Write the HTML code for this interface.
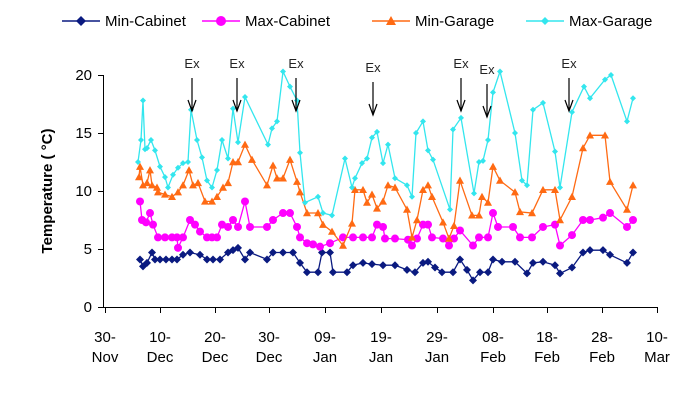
<!DOCTYPE html>
<html><head><meta charset="utf-8"><style>
body{margin:0;background:#fff;}
svg{display:block;font-family:"Liberation Sans",Arial,sans-serif;}
</style></head><body>
<svg id="s" width="700" height="400" viewBox="0 0 700 400">
<rect width="700" height="400" fill="#fff"/>
<g stroke="#000" stroke-width="1" fill="none">
<line x1="103.5" y1="75" x2="103.5" y2="307"/>
<line x1="103" y1="307.5" x2="657" y2="307.5"/>
<line x1="98" y1="75.5" x2="103" y2="75.5"/>
<line x1="98" y1="133.5" x2="103" y2="133.5"/>
<line x1="98" y1="191.5" x2="103" y2="191.5"/>
<line x1="98" y1="249.5" x2="103" y2="249.5"/>
<line x1="98" y1="307.5" x2="103" y2="307.5"/>
</g>
<g font-size="15" text-anchor="end" fill="#000">
<text x="92" y="80">20</text><text x="92" y="138">15</text><text x="92" y="196">10</text><text x="92" y="254">5</text><text x="92" y="312">0</text>
</g>
<text transform="translate(52,191) rotate(-90)" font-size="15" font-weight="bold" text-anchor="middle">Temperature ( °C)</text>
<g id="xt"></g>
<g id="series"></g>
<g id="ex"></g>
<g id="leg" font-size="15"></g>
</svg>
<script>
var NS="http://www.w3.org/2000/svg";
function el(p,t,a,txt){var e=document.createElementNS(NS,t);for(var k in a)e.setAttribute(k,a[k]);if(txt!==undefined)e.textContent=txt;p.appendChild(e);return e;}
var xt=document.getElementById('xt');
var ticks=[105,160,215,269,325,381,437,493,547,602,657];
var l1=["30-","10-","20-","30-","09-","19-","29-","08-","18-","28-","10-"];
var l2=["Nov","Dec","Dec","Dec","Jan","Jan","Jan","Feb","Feb","Feb","Mar"];
ticks.forEach(function(x,i){
 el(xt,'line',{x1:x+.5,y1:307,x2:x+.5,y2:313,stroke:'#000'});
 el(xt,'text',{x:x,y:342,'font-size':15,'text-anchor':'middle'},l1[i]);
 el(xt,'text',{x:x,y:362,'font-size':15,'text-anchor':'middle'},l2[i]);
});
function Y(t){return 307-t*11.6;}
var cyan=[[138,12.5],[141,14.4],[143,17.8],[145,13.6],[147,13.7],[151,14.4],[155,13.5],[160,12.1],[165,11.2],[168,10.3],[173,11.4],[178,12],[183,12.4],[188,12.5],[191,17],[197,14.4],[202,12.9],[207,10.9],[212,10.3],[217,11.8],[222,14.4],[228,12.8],[233,17.1],[238,14.2],[245,18.1],[268,14],[272,15.4],[277,16],[283,20.3],[290,19],[297,17.8],[300,13.3],[305,9],[318,9.5],[323,8.1],[332,7.9],[345,12.8],[352,10.3],[355,11.1],[362,12.4],[367,12.8],[372,14.6],[377,15.1],[383,12.4],[388,14],[395,11.1],[407,10.5],[412,9.5],[416,15],[423,16],[428,13.5],[433,12.7],[450,8.4],[453,15.3],[461,16.3],[474,9.8],[479,12.5],[483,12.6],[488,14.4],[493,18.5],[500,20.3],[515,15],[522,10.9],[527,10.5],[533,17],[543,17.6],[555,13.4],[560,10.3],[572,16.8],[584,19],[590,18],[605,19.6],[611,20],[627,16],[633,18]];
var orange=[[139,11.2],[140,12.1],[143,10.5],[147,10.7],[150,11.8],[152,10.5],[157,10.3],[158,9.9],[165,9.7],[172,9.5],[178,9.9],[183,10.5],[189,11.8],[193,10.5],[198,10.7],[205,9.1],[212,9.1],[217,9.5],[223,10.3],[228,10.7],[233,12.5],[238,12.5],[245,14],[252,12.7],[267,10.5],[273,12.2],[277,11.1],[283,11.1],[290,12.7],[297,10.8],[300,9.9],[307,8.1],[318,8.1],[323,7.1],[332,6.5],[343,5.3],[352,7.2],[355,10.1],[363,10.1],[367,9],[372,9.7],[377,8.5],[383,9.1],[388,10.5],[395,10.3],[407,8.4],[412,6],[417,7.5],[423,10.1],[428,10.5],[432,9.5],[443,7.3],[449,5.9],[454,7],[460,10.9],[472,7.9],[479,7.9],[482,9.5],[488,9],[493,12.1],[500,10.9],[515,9.9],[520,8.2],[532,8.1],[543,10.1],[555,10.1],[560,7.5],[572,9.5],[583,13.7],[590,14.8],[605,14.8],[610,10.8],[627,8.4],[633,10.5]];
var mag=[[140,9.1],[142,7.5],[146,7.3],[150,8.1],[153,7.1],[158,6],[165,6],[172,6],[177,6],[178,5.1],[183,6],[190,7.5],[195,7.1],[200,6.5],[207,6],[212,6],[217,6],[222,7.1],[228,6.9],[233,7.5],[238,6.9],[245,9.1],[250,6.9],[267,6.9],[273,7.5],[283,8.1],[290,8.1],[297,6.9],[300,6],[307,5.5],[313,5.4],[320,5.2],[330,5.5],[343,6],[353,6],[363,6],[372,6],[377,7.1],[383,6.9],[385,5.9],[395,5.9],[408,5.8],[412,5.3],[417,5.9],[423,7.1],[428,7.1],[432,6],[443,5.9],[449,5.3],[454,5.9],[460,6.6],[473,5.3],[479,6],[488,6],[493,8.1],[498,6.9],[513,6.9],[520,6],[532,6],[543,6.9],[555,7.1],[560,5.3],[572,6.2],[583,7.5],[590,7.5],[603,7.7],[610,8.1],[627,6.9],[633,7.5]];
var navy=[[140,4.1],[143,3.5],[147,3.8],[152,4.7],[155,4.1],[160,4.1],[166,4.1],[172,4.1],[177,4.1],[183,4.5],[190,4.7],[200,4.5],[207,4.1],[213,4.1],[220,4.1],[228,4.7],[233,4.9],[238,5.1],[245,4.1],[250,4.7],[267,4.1],[273,4.7],[283,4.7],[293,4.7],[300,3.8],[307,3],[318,3],[322,4.7],[330,4.7],[333,3],[347,3],[353,3.6],[363,3.8],[372,3.7],[383,3.6],[395,3.6],[407,3.2],[415,3],[423,3.8],[428,3.9],[435,3.4],[442,3],[453,3],[460,4.1],[467,3.2],[473,2.3],[480,3],[488,3],[493,4.1],[502,3.9],[515,3.9],[527,2.9],[533,3.8],[543,3.9],[555,3.6],[560,2.9],[572,3.4],[583,4.7],[590,4.9],[603,4.9],[610,4.5],[627,3.8],[633,4.7]];
var sg=document.getElementById('series');
function marker(g,type,x,y,c,sz){
 if(type=='d') el(g,'polygon',{points:(x)+','+(y-sz)+' '+(x+sz)+','+y+' '+x+','+(y+sz)+' '+(x-sz)+','+y,fill:c});
 else if(type=='c') el(g,'circle',{cx:x,cy:y,r:sz,fill:c});
 else if(type=='t') el(g,'polygon',{points:x+','+(y-sz)+' '+(x+sz)+','+(y+sz*0.8)+' '+(x-sz)+','+(y+sz*0.8),fill:c});
}
function series(data,c,type,sz){
 var g=el(sg,'g',{});
 el(g,'polyline',{points:data.map(function(p){return p[0]+','+Y(p[1]).toFixed(1)}).join(' '),fill:'none',stroke:c,'stroke-width':1.3});
 data.forEach(function(p){marker(g,type,p[0],Y(p[1]),c,sz);});
}
series(navy,'#0a1a80','d',4);
series(mag,'#ff00ff','c',4);
series(orange,'#ff6a13','t',4);
series(cyan,'#33e6ee','d',3);
var ex=document.getElementById('ex');
[192,237,296,373,461,487,569].forEach(function(x,i){
 var ty=(i==3?72:(i==5?74:68));
 el(ex,'text',{x:x,y:ty,'font-size':13,'text-anchor':'middle',fill:'#222'},'Ex');
 el(ex,'line',{x1:x,y1:ty+10,x2:x,y2:ty+43,stroke:'#000','stroke-width':1.2});
 el(ex,'polyline',{points:(x-4)+','+(ty+32)+' '+x+','+(ty+43)+' '+(x+4)+','+(ty+32),fill:'none',stroke:'#000','stroke-width':1.2});
});
var lg=document.getElementById('leg');
[[62,'#0a1a80','d',4,'Min-Cabinet'],[202,'#ff00ff','c',4,'Max-Cabinet'],[372,'#ff6a13','t',4,'Min-Garage'],[526,'#33e6ee','d',3,'Max-Garage']].forEach(function(L){
 el(lg,'line',{x1:L[0],y1:21,x2:L[0]+38,y2:21,stroke:L[1],'stroke-width':1.5});
 marker(lg,L[2],L[0]+19,21,L[1],L[3]+1);
 el(lg,'text',{x:L[0]+43,y:26},L[4]);
});
</script>
</body></html>
